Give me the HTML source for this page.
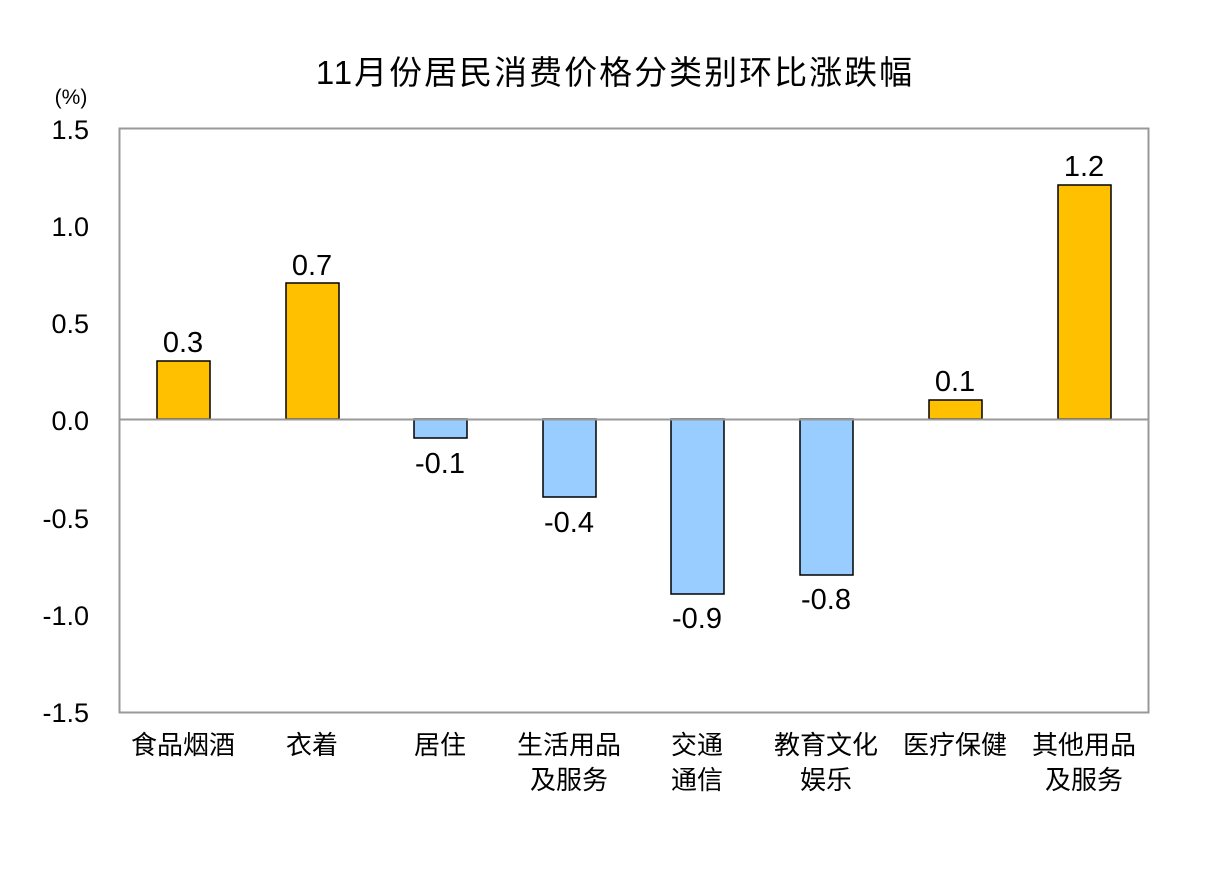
<!DOCTYPE html>
<html><head><meta charset="utf-8"><style>
html,body{margin:0;padding:0;background:#fff;}
svg text{font-family:"Liberation Sans","Noto Sans CJK SC",sans-serif;fill:#000;}
</style></head><body>
<svg width="1215" height="866" xmlns="http://www.w3.org/2000/svg">
<rect width="1215" height="866" fill="#fff"/>
<text x="615" y="84" font-size="33" letter-spacing="2" text-anchor="middle">11月份居民消费价格分类别环比涨跌幅</text>
<text x="71" y="104" font-size="21" text-anchor="middle">(%)</text>
<rect x="119.5" y="128.5" width="1029" height="584" fill="none" stroke="#999" stroke-width="2"/>
<g font-size="27" text-anchor="end">
<text x="89" y="139">1.5</text>
<text x="89" y="236">1.0</text>
<text x="89" y="333">0.5</text>
<text x="89" y="430">0.0</text>
<text x="89" y="528">-0.5</text>
<text x="89" y="625">-1.0</text>
<text x="89" y="722">-1.5</text>
</g>
<g stroke="#000" stroke-width="1.5">
<rect x="157" y="361" width="53" height="58" fill="#FFC000"/>
<rect x="286" y="283" width="53" height="136" fill="#FFC000"/>
<rect x="414" y="419" width="53" height="19" fill="#99CCFF"/>
<rect x="543" y="419" width="53" height="78" fill="#99CCFF"/>
<rect x="671" y="419" width="53" height="175" fill="#99CCFF"/>
<rect x="800" y="419" width="53" height="156" fill="#99CCFF"/>
<rect x="929" y="400" width="53" height="19" fill="#FFC000"/>
<rect x="1058" y="185" width="53" height="234" fill="#FFC000"/>
</g>
<line x1="119" y1="419.5" x2="1148" y2="419.5" stroke="#999" stroke-width="2"/>
<g font-size="29" text-anchor="middle">
<text x="183" y="352">0.3</text>
<text x="312" y="275">0.7</text>
<text x="440" y="473">-0.1</text>
<text x="569" y="532">-0.4</text>
<text x="697" y="628">-0.9</text>
<text x="826" y="609">-0.8</text>
<text x="955" y="391">0.1</text>
<text x="1084" y="176">1.2</text>
</g>
<g font-size="26" text-anchor="middle">
<text x="183" y="754">食品烟酒</text>
<text x="312" y="754">衣着</text>
<text x="440" y="754">居住</text>
<text x="569" y="754">生活用品</text>
<text x="569" y="789">及服务</text>
<text x="697" y="754">交通</text>
<text x="697" y="789">通信</text>
<text x="826" y="754">教育文化</text>
<text x="826" y="789">娱乐</text>
<text x="955" y="754">医疗保健</text>
<text x="1084" y="754">其他用品</text>
<text x="1084" y="789">及服务</text>
</g>
</svg>
</body></html>
